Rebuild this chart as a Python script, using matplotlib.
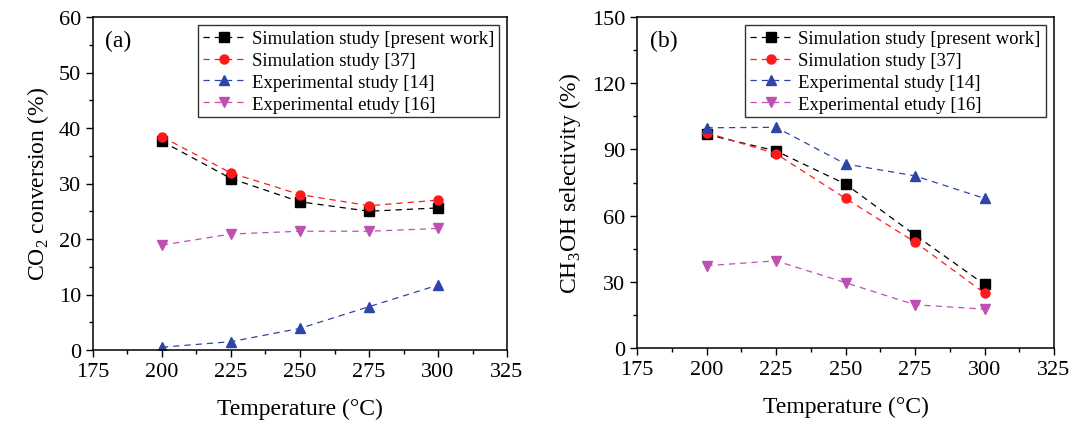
import matplotlib.pyplot as plt
from matplotlib.ticker import MultipleLocator

plt.rcParams['font.family'] = ['Liberation Serif', 'DejaVu Serif']
plt.rcParams['mathtext.fontset'] = 'custom'
plt.rcParams['mathtext.rm'] = 'Liberation Serif'

temps = [200, 225, 250, 275, 300]
labels = ["Simulation study [present work]", "Simulation study [37]",
          "Experimental study [14]", "Experimental etudy [16]"]

co2_present = [37.6, 30.9, 26.7, 25.0, 25.6]
co2_ref37 = [38.4, 31.9, 28.0, 26.0, 27.0]
co2_ref14 = [0.5, 1.5, 3.9, 7.8, 11.7]
co2_ref16 = [18.9, 20.9, 21.4, 21.4, 21.9]

sel_present = [96.8, 89.3, 74.3, 51.2, 28.8]
sel_ref37 = [97.6, 88.0, 67.8, 48.0, 24.9]
sel_ref14 = [99.8, 100.0, 83.4, 78.0, 67.8]
sel_ref16 = [37.3, 39.5, 29.6, 19.6, 17.6]

colors = ['black', '#ff1a1a', '#2e45a8', '#c04fb4']
markers = ['s', 'o', '^', 'v']

fig = plt.figure(figsize=(10.75, 4.35), dpi=100)
ax1 = fig.add_axes([93/1075, 1-351/435, 414/1075, 333/435])
ax2 = fig.add_axes([637/1075, 1-349/435, 417/1075, 331/435])


def draw(ax, series, ylim, ystep, yminor, ylabel, tag):
    for s, c, m, lab in zip(series, colors, markers, labels):
        ax.plot(temps, s, linestyle=(0, (5, 4)), color=c, lw=0.9,
                marker=m, markersize=6.5, label=lab)
    ax.set_xlim(175, 325)
    ax.set_ylim(*ylim)
    ax.xaxis.set_major_locator(MultipleLocator(25))
    ax.xaxis.set_minor_locator(MultipleLocator(12.5))
    ax.yaxis.set_major_locator(MultipleLocator(ystep))
    ax.yaxis.set_minor_locator(MultipleLocator(yminor))
    ax.tick_params(which='major', direction='out', length=5, labelsize=16, width=1)
    ax.tick_params(which='minor', direction='out', length=3, width=1)
    for sp in ax.spines.values():
        sp.set_linewidth(1.1)
    ax.set_xlabel("Temperature (\u00b0C)", fontsize=17, labelpad=12)
    ax.set_ylabel(ylabel, fontsize=17, labelpad=6)
    ax.text(0.03, 0.93, tag, transform=ax.transAxes, fontsize=17, va='center')
    leg = ax.legend(loc='upper right', fontsize=13.5, frameon=True, fancybox=False,
                    edgecolor='black', handlelength=2.3, handletextpad=0.3,
                    borderpad=0.25, labelspacing=0.25, borderaxespad=0.45)
    leg.get_frame().set_linewidth(1.0)


draw(ax1, [co2_present, co2_ref37, co2_ref14, co2_ref16], (0, 60), 10, 5,
     "CO$_2$ conversion (%)", "(a)")
draw(ax2, [sel_present, sel_ref37, sel_ref14, sel_ref16], (0, 150), 30, 15,
     "CH$_3$OH selectivity (%)", "(b)")

fig.savefig("out.png", dpi=100)
